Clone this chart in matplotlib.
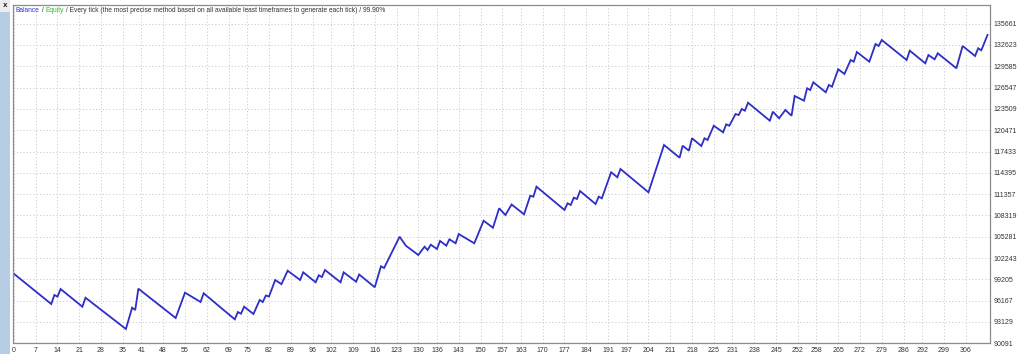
import matplotlib
matplotlib.use("Agg")
import matplotlib.pyplot as plt
from matplotlib.patches import Rectangle

# Balance curve vertices (trade number, balance)
trade_no = [0, 12, 13, 14, 15, 22, 23, 36, 38, 39, 40, 52, 55, 60, 61, 71, 72, 73, 74,
            77, 79, 80, 81, 82, 84, 86, 88, 92, 93, 97, 98, 99, 100, 105, 106, 110, 111,
            116, 118, 119, 124, 126, 130, 132, 133, 134, 136, 137, 139, 140, 142, 143,
            148, 151, 154, 156, 158, 160, 164, 166, 167, 168, 177, 178, 179, 180, 181,
            182, 187, 188, 189, 192, 194, 195, 204, 209, 214, 215, 217, 218, 221, 222,
            223, 225, 228, 229, 230, 232, 233, 234, 235, 236, 243, 244, 246, 248, 250,
            251, 254, 255, 256, 257, 261, 262, 263, 265, 267, 269, 270, 271, 275, 277,
            278, 279, 287, 288, 293, 294, 296, 297, 303, 305, 309, 310, 311, 313]
balance = [100000, 95690, 96980, 96740, 97830, 95310, 96590, 92130, 95170, 94840, 97880,
           93700, 97310, 95980, 97220, 93510, 94550, 94310, 95310, 94270, 96260, 95980,
           96910, 96760, 99120, 98520, 100440, 99120, 100210, 98790, 99790, 99540, 100540,
           98790, 100210, 98870, 99900, 98080, 101070, 100830, 105290, 104010, 102680,
           103860, 103390, 104150, 103540, 104680, 104010, 104920, 104350, 105670, 104350,
           107570, 106570, 109340, 108380, 109880, 108480, 111130, 110990, 112420, 109100,
           110050, 109810, 110850, 110660, 111800, 109950, 110990, 110760, 114470, 113760,
           114940, 111620, 118360, 116550, 118260, 117550, 119320, 118220, 119320, 119080,
           121110, 120170, 121310, 121110, 122780, 122640, 123500, 123250, 124390, 121830,
           123110, 122170, 123350, 122540, 125350, 124680, 126450, 126200, 127300, 125880,
           126920, 126670, 129160, 128490, 130480, 130240, 131620, 130240, 132760, 132480,
           133330, 130480, 131810, 130010, 131190, 130580, 131440, 129300, 132480, 131050,
           132150, 131860, 134050]

x_ticks = [0, 7, 14, 21, 28, 35, 41, 48, 55, 62, 69, 75, 82, 89, 96, 102, 109, 116, 123,
           130, 136, 143, 150, 157, 163, 170, 177, 184, 191, 197, 204, 211, 218, 225, 231,
           238, 245, 252, 258, 265, 272, 279, 286, 292, 299, 306]
y_ticks = [90091, 93129, 96167, 99205, 102243, 105281, 108319, 111357, 114395, 117433,
           120471, 123509, 126547, 129585, 132623, 135661]

W, H = 1024, 354
fig = plt.figure(figsize=(W / 100, H / 100), dpi=100)
fig.patch.set_facecolor("white")

ax = fig.add_axes([13 / W, (H - 343.3) / H, (990 - 13) / W, (343.3 - 5) / H])
ax.plot(trade_no, balance, color="#2e2ec6", lw=1.3, solid_joinstyle="miter")

ax.set_xlim(-0.3, 313.8)
ax.set_ylim(90091, 138322)
ax.set_xticks(x_ticks)
ax.set_yticks(y_ticks)
ax.set_xticklabels([str(v) for v in x_ticks])
ax.set_yticklabels([str(v) for v in y_ticks])
ax.yaxis.tick_right()
ax.tick_params(axis="both", length=0, labelsize=5, labelcolor="#333333")
ax.tick_params(axis="x", pad=2.5)
ax.tick_params(axis="y", pad=2.5)
for lab in ax.get_xticklabels() + ax.get_yticklabels():
    lab.set_family("Liberation Sans")

ax.grid(True, color="#cccccc", lw=0.7, ls=(0, (1.2, 2.2)))
ax.set_axisbelow(True)
for sp in ax.spines.values():
    sp.set_color("#8c8c8c")
    sp.set_linewidth(0.9)

# left side panel strip
fig.patches.append(Rectangle((0, 0), 10 / W, (H - 12) / H, transform=fig.transFigure,
                             facecolor="#b7cde6", edgecolor="none"))
fig.patches.append(Rectangle((0, (H - 12) / H), 10 / W, 12 / H, transform=fig.transFigure,
                             facecolor="#eeeeee", edgecolor="none"))
fig.text(5 / W, 1 - 5 / H, "x", fontsize=5, ha="center", va="center", color="#333333",
         family="DejaVu Sans", weight="bold")

# header line with coloured parts
parts = [("Balance", "#3636d0"), (" / ", "#333333"), ("Equity", "#2bbf2b"),
         (" / Every tick (the most precise method based on all available least timeframes "
          "to generate each tick) / 99.90%", "#333333")]
renderer = fig.canvas.get_renderer()
xpos = 16 / W
for txt, col in parts:
    t = fig.text(xpos, 1 - 10 / H, txt, fontsize=4.8, color=col, ha="left", va="center",
                 family="Liberation Sans")
    bb = t.get_window_extent(renderer=renderer)
    xpos = bb.x1 / W

fig.savefig("out.png", dpi=100)
